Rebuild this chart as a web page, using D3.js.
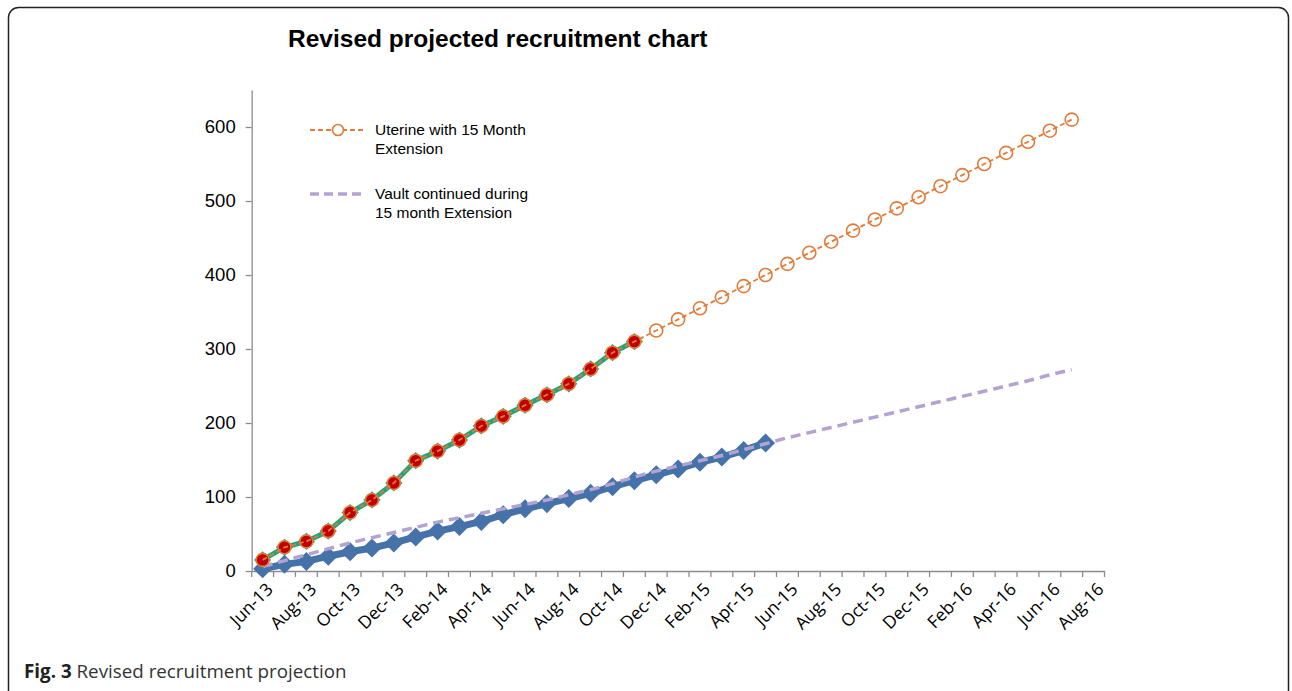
<!DOCTYPE html>
<html>
<head>
<meta charset="utf-8">
<script src="https://cdn.jsdelivr.net/npm/d3@7/dist/d3.min.js"></script>
<style>
body{margin:0;background:#fff;overflow:hidden}
</style>
</head>
<body>
<div id="chart"></div>
<script>
// month categories on the x axis (labels shown every other month)
var months=["Jun-13","Jul-13","Aug-13","Sep-13","Oct-13","Nov-13","Dec-13","Jan-14","Feb-14","Mar-14","Apr-14","May-14",
	"Jun-14","Jul-14","Aug-14","Sep-14","Oct-14","Nov-14","Dec-14","Jan-15","Feb-15","Mar-15","Apr-15","May-15",
	"Jun-15","Jul-15","Aug-15","Sep-15","Oct-15","Nov-15","Dec-15","Jan-16","Feb-16","Mar-16","Apr-16","May-16",
	"Jun-16","Jul-16","Aug-16"]

// actual uterine recruitment (green line, red dots)
var uterineActual=[15,32,40,54,79,96,119,149,162,177,196,209,224,238,253,273,295,310]
// uterine with 15 month extension (orange dashed)
var uterineProjected=[15,32,40,54,79,96,119,149,162,177,196,209,224,238,253,273,295,310,
	325,340,355,370,385,400,415,430,445,460,475,490,505,520,535,550,565,580,595,610]
// actual vault recruitment (blue diamonds)
var vaultActual=[3,9,13,20,26,31,38,46,54,60,67,76,84,91,98,105,114,122,130,138,147,154,163,173]
// vault continued during 15 month extension (purple dashed)
var vaultContinued=[6,14,22,30,38,45,52,59,66,72,78,84,90,96,103,110,118,127,135,142,
	149,156,164,172,180,187,194,201,208,215,222,229,236,243,250,257,265,272]

var yTicks=[0,100,200,300,400,500,600]
var legendLabels=[["Uterine with 15 Month","Extension"],["Vault continued during","15 month Extension"]]

var W=1292,H=691
var svg=d3.select("#chart").append("svg")
	.attr("width",W)
	.attr("height",H)

// outer frame
svg.append("rect")
	.attr("x",8.5).attr("y",7.5)
	.attr("width",1280).attr("height",740)
	.attr("rx",10)
	.attr("fill","none")
	.attr("stroke","#222")
	.attr("stroke-width",1.5)

var x=d3.scaleBand().domain(months).range([251.7,1104.5]).padding(0)
var y=d3.scaleLinear().domain([0,650]).range([571,90])
function cx(i){return x(months[i])+x.bandwidth()/2}

var axisColor="#8c8c8c"

// y axis
var gy=svg.append("g")
	.attr("transform","translate("+x.range()[0]+",0)")
	.call(d3.axisLeft(y).tickValues(yTicks).tickSize(6).tickSizeOuter(0).tickPadding(10))
gy.select(".domain").attr("stroke",axisColor).attr("stroke-width",1.3)
gy.selectAll(".tick line").attr("stroke",axisColor).attr("stroke-width",1.3)
gy.selectAll(".tick text")
	.attr("font-family","'Liberation Sans',Arial,sans-serif")
	.attr("font-size",18.5)
	.attr("fill","#000")

// x axis
var gx=svg.append("g")
	.attr("transform","translate(0,"+y(0)+")")
	.call(d3.axisBottom(x).tickSize(0).tickSizeOuter(0).tickFormat(function(d,i){return i%2==0?d:""}))
gx.select(".domain").attr("stroke",axisColor).attr("stroke-width",1.3)
gx.selectAll(".tick text")
	.attr("font-family","'Open Sans',sans-serif")
	.attr("font-size",17.5)
	.attr("fill","#000")
	.attr("text-anchor","end")
	.attr("x",0).attr("y",0).attr("dy","0.35em")
	.attr("transform","translate(7,15) rotate(-45)")

// boundary tick marks (between categories)
var bounds=months.map(function(m){return x(m)}).concat([x.range()[1]])
gx.selectAll(".btick")
	.data(bounds)
	.enter()
	.append("line")
	.attr("class","btick")
	.attr("x1",function(d){return d}).attr("x2",function(d){return d})
	.attr("y1",0).attr("y2",6)
	.attr("stroke",axisColor)
	.attr("stroke-width",1.3)

var line=d3.line()
	.x(function(d,i){return cx(i)})
	.y(function(d){return y(d)})

// blue actual vault
svg.append("path")
	.datum(vaultActual)
	.attr("d",line)
	.attr("fill","none")
	.attr("stroke","#4672aa")
	.attr("stroke-width",7)
svg.selectAll(".vdot")
	.data(vaultActual)
	.enter()
	.append("path")
	.attr("class","vdot")
	.attr("d",d3.symbol(d3.symbolDiamond2,230))
	.attr("transform",function(d,i){return "translate("+cx(i)+","+y(d)+")"})
	.attr("fill","#4672aa")

// purple dashed trend
svg.append("path")
	.datum(vaultContinued)
	.attr("d",line.curve(d3.curveMonotoneX))
	.attr("fill","none")
	.attr("stroke","#b3a3d1")
	.attr("stroke-width",3.5)
	.attr("stroke-dasharray","10,6")
line.curve(d3.curveLinear)

// green actual uterine
svg.append("path")
	.datum(uterineActual)
	.attr("d",line)
	.attr("fill","none")
	.attr("stroke","#1fa57c")
	.attr("stroke-width",5)
svg.selectAll(".gdot")
	.data(uterineActual)
	.enter()
	.append("path")
	.attr("class","gdot")
	.attr("d",d3.symbol(d3.symbolDiamond2,190))
	.attr("transform",function(d,i){return "translate("+cx(i)+","+y(d)+")"})
	.attr("fill","#1fa57c")
svg.selectAll(".rdot")
	.data(uterineActual)
	.enter()
	.append("circle")
	.attr("class","rdot")
	.attr("cx",function(d,i){return cx(i)})
	.attr("cy",function(d){return y(d)})
	.attr("r",6.5)
	.attr("fill","#c00000")

// orange projection
var orange="#e07b39"
svg.append("path")
	.datum(uterineProjected)
	.attr("d",line)
	.attr("fill","none")
	.attr("stroke",orange)
	.attr("stroke-width",1.8)
	.attr("stroke-dasharray","5,3")
svg.selectAll(".odot")
	.data(uterineProjected)
	.enter()
	.append("circle")
	.attr("class","odot")
	.attr("cx",function(d,i){return cx(i)})
	.attr("cy",function(d){return y(d)})
	.attr("r",6.5)
	.attr("fill","none")
	.attr("stroke",orange)
	.attr("stroke-width",1.6)

// legend
var lg=svg.append("g")
lg.append("line")
	.attr("x1",310).attr("x2",366).attr("y1",130).attr("y2",130)
	.attr("stroke",orange).attr("stroke-width",1.8).attr("stroke-dasharray","5,3")
lg.append("circle")
	.attr("cx",338).attr("cy",130).attr("r",5.5)
	.attr("fill","#fff").attr("stroke",orange).attr("stroke-width",1.6)
lg.append("line")
	.attr("x1",310).attr("x2",366).attr("y1",194).attr("y2",194)
	.attr("stroke","#b3a3d1").attr("stroke-width",3.5).attr("stroke-dasharray","9,5")
legendLabels.forEach(function(lines,k){
	lines.forEach(function(t,j){
		lg.append("text")
			.attr("x",375)
			.attr("y",130+k*64+j*19)
			.attr("dy","0.35em")
			.attr("font-family","'Liberation Sans',Arial,sans-serif")
			.attr("font-size",15.5)
			.attr("fill","#000")
			.text(t)
	})
})

// title
svg.append("text")
	.attr("x",288)
	.attr("y",47)
	.attr("font-family","'Liberation Sans',Arial,sans-serif")
	.attr("font-weight","bold")
	.attr("font-size",24.5)
	.attr("fill","#000")
	.text("Revised projected recruitment chart")

// caption
var cap=svg.append("text")
	.attr("x",24)
	.attr("y",678)
	.attr("font-family","'Open Sans',sans-serif")
	.attr("font-size",18.8)
	.attr("fill","#333")
cap.append("tspan").attr("font-weight","bold").attr("fill","#222").text("Fig. 3")
cap.append("tspan").text(" Revised recruitment projection")
</script>
</body>
</html>
